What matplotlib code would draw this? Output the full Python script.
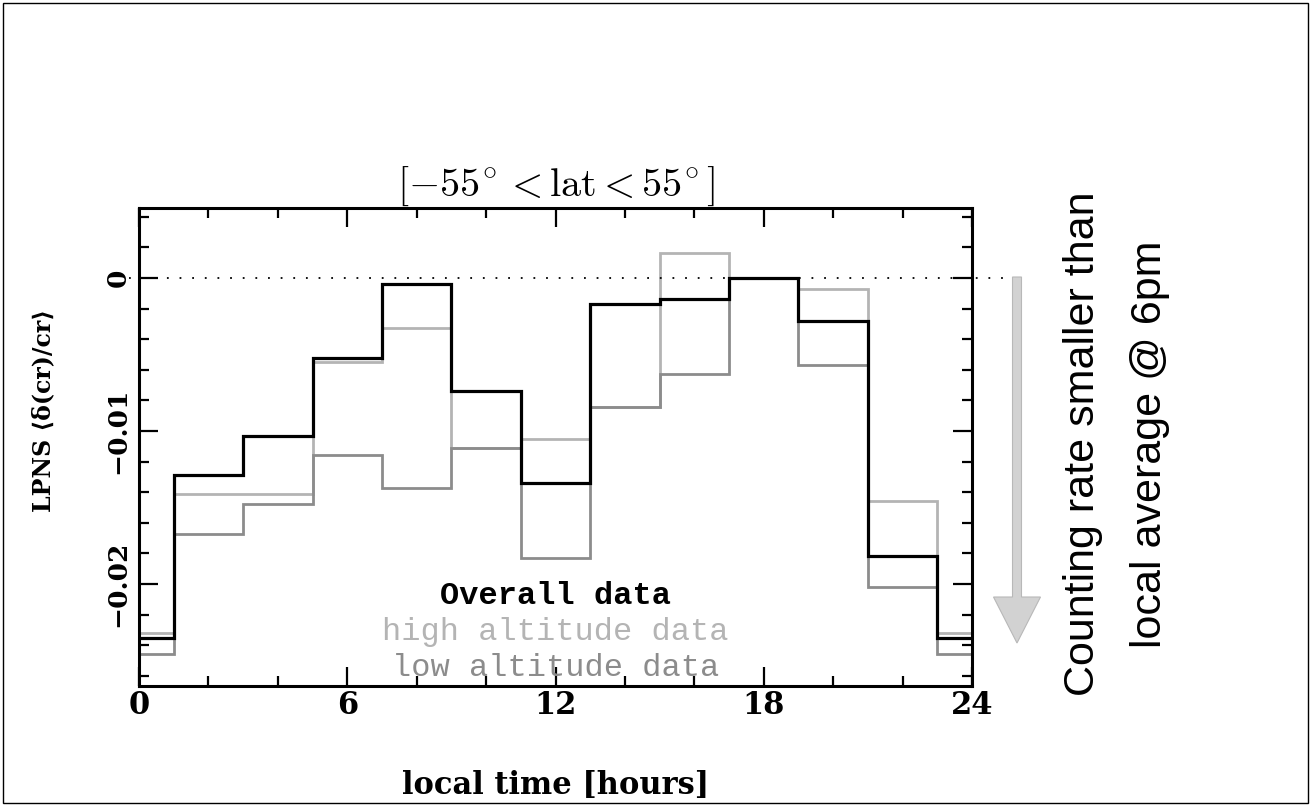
import matplotlib
matplotlib.use("Agg")
import matplotlib.pyplot as plt
from matplotlib.patches import FancyArrow, Rectangle
from matplotlib.ticker import MultipleLocator, FixedLocator

plt.rcParams['mathtext.fontset'] = 'cm'

# ---- data (2-hour local-time bins centred on 0,2,...,22 h; bin 0 wraps) ----
bin_centres = [0, 2, 4, 6, 8, 10, 12, 14, 16, 18, 20, 22]
overall = [-0.0235, -0.0129, -0.0103, -0.0052, -0.0004, -0.0074,
           -0.0134, -0.0017, -0.0014, 0.0, -0.0028, -0.0182]
high_alt = [-0.0232, -0.0141, -0.0141, -0.0055, -0.0033, -0.0111,
            -0.0105, -0.0084, 0.00165, 0.0, -0.0007, -0.0146]
low_alt = [-0.0246, -0.0167, -0.0148, -0.0116, -0.0137, -0.0111,
           -0.0183, -0.0084, -0.0063, 0.0, -0.0057, -0.0202]

x_ticks = [0, 6, 12, 18, 24]
x_ticklabels = ['0', '6', '12', '18', '24']
y_ticks = [0.0, -0.01, -0.02]
y_ticklabels = ['0', '\u22120.01', '\u22120.02']

title = r'$[-55^{\!\circ} < \mathrm{lat} < 55^{\!\circ}]$'
xlabel = 'local time [hours]'
ylabel = 'LPNS \u27e8\u03b4(cr)/cr\u27e9'
legend_texts = ['Overall data', 'high altitude data', 'low altitude data']
side_text = ['Counting rate smaller than', 'local average @ 6pm']

W, H = 1314, 806
fig = plt.figure(figsize=(W / 100, H / 100), dpi=100)

left, right, top, bottom = 139, 972, 208, 686
ax = fig.add_axes([left / W, 1 - bottom / H, (right - left) / W, (bottom - top) / H])

def wrap(vals):
    edges = [0] + [c + 1 for c in bin_centres[:-1]] + [23, 24]
    return vals + [vals[0]], edges

c_high = '#b4b4b4'
c_low = '#8c8c8c'
for vals, col, lw in [(high_alt, c_high, 2.0), (low_alt, c_low, 2.0), (overall, 'black', 2.3)]:
    v, e = wrap(vals)
    ax.stairs(v, e, baseline=None, color=col, lw=lw)

ax.plot([-0.3, 25.4], [0, 0], color='black', lw=1.3, ls=(0, (1, 6)), clip_on=False, zorder=1)

ax.set_xlim(0, 24)
ax.set_ylim(-(bottom - 278) / 15300, (278 - top) / 15300)

for s in ax.spines.values():
    s.set_linewidth(2.2)

serif_bold = dict(family=['DejaVu Serif', 'DejaVu Sans'], weight='bold')

ax.xaxis.set_major_locator(FixedLocator(x_ticks))
ax.xaxis.set_minor_locator(MultipleLocator(2))
ax.yaxis.set_major_locator(FixedLocator(y_ticks))
ax.yaxis.set_minor_locator(MultipleLocator(0.002))
ax.tick_params(which='both', direction='in', top=True, right=True, width=1.6)
ax.tick_params(which='major', length=14)
ax.tick_params(which='minor', length=7)
ax.set_xticklabels(x_ticklabels, fontsize=22, **serif_bold)
ax.set_yticklabels(y_ticklabels, fontsize=19, rotation=90, va='center', **serif_bold)
ax.tick_params(axis='x', pad=3)
ax.tick_params(axis='y', pad=6)

ax.set_xlabel(xlabel, fontsize=22, **serif_bold)
ax.xaxis.set_label_coords(0.5, -(785 - bottom) / (bottom - top))
ax.xaxis.label.set_va('center')
ax.set_ylabel(ylabel, fontsize=17, **serif_bold)
ax.yaxis.set_label_coords((43 - left) / (right - left), (bottom - 410) / (bottom - top))
ax.yaxis.label.set_va('center')
ax.set_title(title, fontsize=29, pad=2)

# legend-like texts
ax.text(12, -(596 - 278) / 15300, legend_texts[0], color='black', fontsize=23,
        family='Liberation Mono', weight='bold', ha='center', va='center')
ax.text(12, -(632 - 278) / 15300, legend_texts[1], color=c_high, fontsize=23,
        family='Liberation Mono', ha='center', va='center')
ax.text(12, -(668 - 278) / 15300, legend_texts[2], color=c_low, fontsize=23,
        family='Liberation Mono', ha='center', va='center')

# gray arrow (in inches)
arr = FancyArrow(10.17, (H - 277) / 100, 0, -(643 - 277) / 100, width=0.09,
                 head_width=0.47, head_length=0.46, length_includes_head=True,
                 facecolor='#d2d2d2', edgecolor='#b8b8b8', lw=0.8,
                 transform=fig.dpi_scale_trans)
fig.patches.append(arr)

fig.text(1083 / W, 1 - 444 / H, side_text[0], rotation=90, ha='center', va='center',
         fontsize=31, family='Liberation Sans')
fig.text(1150 / W, 1 - 444 / H, side_text[1], rotation=90, ha='center', va='center',
         fontsize=31, family='Liberation Sans')

fig.patches.append(Rectangle((3 / W, 3 / H), (1308 - 3) / W, (803 - 3) / H, fill=False,
                             lw=1.0, edgecolor='black', transform=fig.transFigure))

fig.savefig('out.png', dpi=100)
